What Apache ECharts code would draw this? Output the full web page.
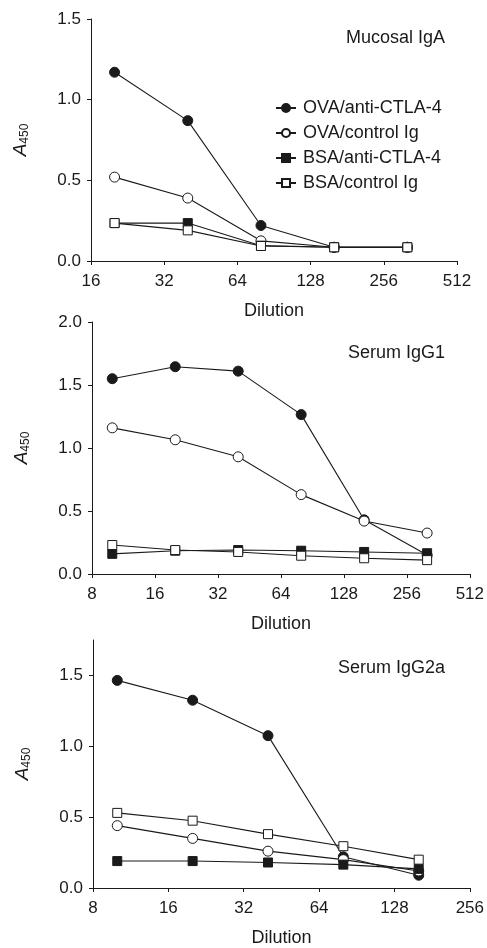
<!DOCTYPE html>
<html>
<head>
<meta charset="utf-8">
<script src="https://cdn.jsdelivr.net/npm/echarts@6/dist/echarts.min.js"></script>
<style>
    html, body { margin: 0; padding: 0; background: #fff; }
    #chart { width: 487px; height: 948px; }
</style>
</head>
<body>
<div id="chart"></div>
<script>
    // dilutions for each panel
    var dil1 = [20, 40, 80, 160, 320];
    var dil2 = [10, 20, 40, 80, 160, 320];
    var dil3 = [10, 20, 40, 80, 160];

    var names = ['OVA/anti-CTLA-4', 'OVA/control Ig', 'BSA/anti-CTLA-4', 'BSA/control Ig'];
    var panelTitles = ['Mucosal IgA', 'Serum IgG1', 'Serum IgG2a'];

    // Mucosal IgA
    var ovaAnti1 = [1.17, 0.87, 0.22, 0.085, 0.085];
    var ovaCtrl1 = [0.52, 0.39, 0.125, 0.085, 0.085];
    var bsaAnti1 = [0.235, 0.235, 0.095, 0.085, 0.085];
    var bsaCtrl1 = [0.235, 0.19, 0.093, 0.085, 0.085];

    // Serum IgG1
    var ovaAnti2 = [1.55, 1.645, 1.61, 1.265, 0.43, 0.15];
    var ovaCtrl2 = [1.16, 1.065, 0.93, 0.63, 0.42, 0.325];
    var bsaAnti2 = [0.16, 0.185, 0.19, 0.185, 0.175, 0.165];
    var bsaCtrl2 = [0.23, 0.19, 0.175, 0.145, 0.125, 0.11];

    // Serum IgG2a
    var ovaAnti3 = [1.465, 1.325, 1.075, 0.22, 0.09];
    var ovaCtrl3 = [0.44, 0.35, 0.26, 0.2, 0.12];
    var bsaAnti3 = [0.19, 0.19, 0.18, 0.165, 0.135];
    var bsaCtrl3 = [0.53, 0.475, 0.38, 0.295, 0.2];

    var xTicks1 = [16, 512];
    var xTicks2 = [8, 512];
    var xTicks3 = [8, 256];
    var yMax = [1.5, 2.0, 1.75];
    var yTicks3 = [0, 0.5, 1.0, 1.5];

    var ink = '#1a1a1a';
    var font = 'Liberation Sans';

    var symbols = [
        { symbol: 'circle', size: 10, fill: ink },
        { symbol: 'circle', size: 10, fill: '#fff' },
        { symbol: 'rect', size: 9, fill: ink },
        { symbol: 'rect', size: 9, fill: '#fff' }
    ];

    function pairs(xs, ys) {
        return xs.map(function (x, i) { return [x, ys[i]]; });
    }

    function makeSeries(idx, xs, sets) {
        return sets.map(function (ys, k) {
            return {
                name: names[k],
                type: 'line',
                xAxisIndex: idx,
                yAxisIndex: idx,
                data: pairs(xs, ys),
                symbol: symbols[k].symbol,
                symbolSize: symbols[k].size,
                showAllSymbol: true,
                lineStyle: { color: ink, width: 1.1 },
                itemStyle: { color: symbols[k].fill, borderColor: ink, borderWidth: 1, opacity: 1 },
                emphasis: { disabled: true },
                animation: false,
                z: 2 + k
            };
        });
    }

    function xAxis(idx, ticks) {
        return {
            type: 'log',
            logBase: 2,
            gridIndex: idx,
            min: ticks[0],
            max: ticks[1],
            name: 'Dilution',
            nameLocation: 'middle',
            nameGap: 41,
            nameTextStyle: { color: ink, fontSize: 18, fontFamily: font },
            axisLine: { lineStyle: { color: ink, width: 1 } },
            axisTick: { show: true, inside: false, length: 4, lineStyle: { color: ink } },
            axisLabel: { color: ink, fontSize: 17, fontFamily: font, margin: 12, showMinLabel: true, showMaxLabel: true },
            splitLine: { show: false },
            minorTick: { show: false }
        };
    }

    function yAxis(idx, max) {
        var ax = {
            type: 'value',
            gridIndex: idx,
            min: 0,
            max: max,
            interval: 0.5,
            name: '{a|A}{b|450}',
            nameLocation: 'middle',
            nameGap: 60,
            nameRotate: 90,
            nameTextStyle: {
                color: ink, fontFamily: font,
                rich: {
                    a: { fontSize: 19, fontStyle: 'italic', color: ink, fontFamily: font },
                    b: { fontSize: 12, color: ink, fontFamily: font, padding: [9, 0, 0, 0] }
                }
            },
            axisLine: { show: true, lineStyle: { color: ink, width: 1 } },
            axisTick: { show: true, inside: false, length: 4, lineStyle: { color: ink } },
            axisLabel: {
                color: ink, fontSize: 17, fontFamily: font, margin: 10,
                formatter: function (v) { return v.toFixed(1); }
            },
            splitLine: { show: false }
        };
        if (idx === 2) {
            ax.axisTick.customValues = yTicks3;
            ax.axisLabel.customValues = yTicks3;
        }
        return ax;
    }

    var chart = echarts.init(document.getElementById('chart'), null, { renderer: 'canvas' });

    var option = {
        backgroundColor: '#fff',
        animation: false,
        textStyle: { fontFamily: font },
        title: [
            { text: panelTitles[0], right: 37, top: 24 },
            { text: panelTitles[1], right: 37, top: 339 },
            { text: panelTitles[2], right: 37, top: 654 }
        ].map(function (t) {
            t.textStyle = { color: ink, fontSize: 18, fontWeight: 'normal', fontFamily: font };
            return t;
        }),
        legend: {
            orient: 'vertical',
            left: 270,
            top: 94,
            itemWidth: 20,
            itemHeight: 10,
            itemGap: 7,
            data: names,
            selectedMode: false,
            textStyle: { color: ink, fontSize: 18, fontFamily: font, padding: [0, 0, 0, 2] }
        },
        grid: [
            { left: 91, top: 19, width: 366, height: 242 },
            { left: 92, top: 322, width: 378, height: 252 },
            { left: 93, top: 640, width: 377, height: 251 }
        ],
        xAxis: [xAxis(0, xTicks1), xAxis(1, xTicks2), xAxis(2, xTicks3)],
        yAxis: [yAxis(0, yMax[0]), yAxis(1, yMax[1]), yAxis(2, yMax[2])],
        series: []
            .concat(makeSeries(0, dil1, [ovaAnti1, ovaCtrl1, bsaAnti1, bsaCtrl1]))
            .concat(makeSeries(1, dil2, [ovaAnti2, ovaCtrl2, bsaAnti2, bsaCtrl2]))
            .concat(makeSeries(2, dil3, [ovaAnti3, ovaCtrl3, bsaAnti3, bsaCtrl3]))
    };

    chart.setOption(option);
</script>
</body>
</html>
